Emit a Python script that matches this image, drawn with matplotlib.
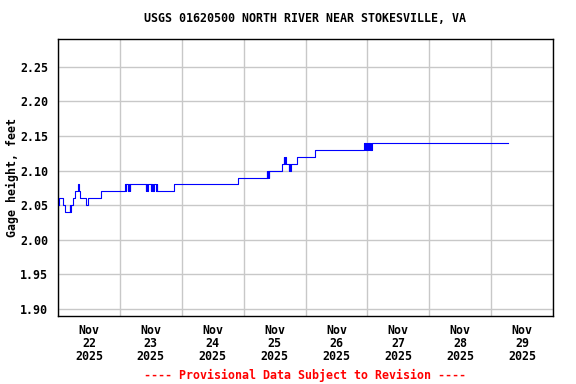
#!/usr/bin/env python3
# USGS style gage height plot - North River near Stokesville, VA

import matplotlib
matplotlib.use("Agg")
import matplotlib.pyplot as plt
import pandas as pd

# observed gage height (change points, 15-min data), feet
obs_times = [
    "2025-11-22 00:15", "2025-11-22 00:30", "2025-11-22 01:45", "2025-11-22 02:45",
    "2025-11-22 04:30", "2025-11-22 04:45", "2025-11-22 05:00", "2025-11-22 05:45",
    "2025-11-22 06:45", "2025-11-22 07:45", "2025-11-22 08:00", "2025-11-22 08:30",
    "2025-11-22 10:45", "2025-11-22 11:30", "2025-11-22 16:45",
    "2025-11-23 02:00", "2025-11-23 02:15", "2025-11-23 02:30", "2025-11-23 03:15",
    "2025-11-23 03:30", "2025-11-23 03:45", "2025-11-23 04:00",
    "2025-11-23 10:00", "2025-11-23 10:15", "2025-11-23 10:30", "2025-11-23 10:45",
    "2025-11-23 12:00", "2025-11-23 12:15", "2025-11-23 12:30", "2025-11-23 12:45",
    "2025-11-23 13:00", "2025-11-23 13:15", "2025-11-23 14:00", "2025-11-23 14:15",
    "2025-11-23 14:30", "2025-11-23 21:00",
    "2025-11-24 22:00",
    "2025-11-25 09:00", "2025-11-25 09:15", "2025-11-25 09:30", "2025-11-25 09:45",
    "2025-11-25 10:00", "2025-11-25 14:45", "2025-11-25 15:30", "2025-11-25 15:45",
    "2025-11-25 16:00", "2025-11-25 16:15", "2025-11-25 17:30", "2025-11-25 17:45",
    "2025-11-25 18:00", "2025-11-25 18:15", "2025-11-25 20:45",
    "2025-11-26 03:30", "2025-11-26 22:45", "2025-11-26 23:00", "2025-11-26 23:15",
    "2025-11-26 23:30", "2025-11-26 23:45",
    "2025-11-27 00:00", "2025-11-27 00:15", "2025-11-27 00:30", "2025-11-27 00:45",
    "2025-11-27 01:00", "2025-11-27 01:15", "2025-11-27 01:30", "2025-11-27 01:45",
    "2025-11-29 06:30",
]
gage_ft = [
    2.05, 2.06, 2.05, 2.04,
    2.05, 2.04, 2.05, 2.06,
    2.07, 2.08, 2.07, 2.06,
    2.05, 2.06, 2.07,
    2.08, 2.07, 2.08, 2.07,
    2.08, 2.07, 2.08,
    2.07, 2.08, 2.07, 2.08,
    2.07, 2.08, 2.07, 2.08,
    2.07, 2.08, 2.07, 2.08,
    2.07, 2.08,
    2.09,
    2.10, 2.09, 2.10, 2.09,
    2.10, 2.11, 2.12, 2.11,
    2.12, 2.11, 2.10, 2.11,
    2.10, 2.11, 2.12,
    2.13, 2.14, 2.13, 2.14,
    2.13, 2.14,
    2.13, 2.14, 2.13, 2.14,
    2.13, 2.14, 2.13, 2.14,
    2.14,
]

day_labels = ["Nov\n22\n2025", "Nov\n23\n2025", "Nov\n24\n2025", "Nov\n25\n2025",
              "Nov\n26\n2025", "Nov\n27\n2025", "Nov\n28\n2025", "Nov\n29\n2025"]
y_ticks = [1.90, 1.95, 2.00, 2.05, 2.10, 2.15, 2.20, 2.25]

title = "USGS 01620500 NORTH RIVER NEAR STOKESVILLE, VA"
note = "---- Provisional Data Subject to Revision ----"

font = dict(family="DejaVu Sans Mono", weight="bold", size=8.4)

t = pd.to_datetime(obs_times)
days = pd.date_range("2025-11-22", "2025-11-30", freq="D")
noons = days[:-1] + pd.Timedelta(hours=12)

fig = plt.figure(figsize=(5.76, 3.84), dpi=100)
ax = fig.add_axes([58 / 576, 1 - 316 / 384, 495 / 576, 277 / 384])

ax.plot(t, gage_ft, color="#0000ff", linewidth=0.8, drawstyle="steps-post", zorder=3)

ax.set_xlim(days[0], days[-1])
ax.set_ylim(1.89, 2.29)

# grid at midnights, labels at noon
ax.set_xticks(days, minor=True)
ax.set_xticks(noons)
ax.set_xticklabels(day_labels, fontdict=font, linespacing=1.0)
ax.set_yticks(y_ticks)
ax.set_yticklabels([f"{v:.2f}" for v in y_ticks], fontdict=font)
ax.tick_params(axis="both", which="both", length=0)
ax.tick_params(axis="x", pad=6)
ax.tick_params(axis="y", pad=7)
ax.grid(True, which="minor", axis="x", color="#c8c8c8", linewidth=1.0)
ax.grid(True, which="major", axis="y", color="#c8c8c8", linewidth=1.0)
ax.set_axisbelow(True)

for s in ax.spines.values():
    s.set_linewidth(1.0)
    s.set_color("black")

ax.set_ylabel("Gage height, feet", fontdict=font)
ax.yaxis.set_label_coords((19 - 58) / 495, 0.5)

cx = (58 + 553) / 2 / 576
fig.text(cx, 1 - 19 / 384, title, ha="center", va="center", **font)
fig.text(cx, 1 - 375 / 384, note, ha="center", va="center", color="red", **font)

fig.savefig("out.png", dpi=100)
